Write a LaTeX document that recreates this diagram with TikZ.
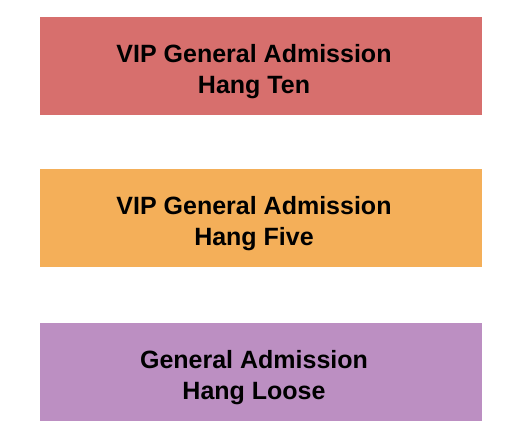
\documentclass[tikz,border=0pt]{standalone}
\usepackage{fontspec}
\setmainfont{Liberation Sans}
\usepackage[HTML]{xcolor}
\usetikzlibrary{positioning}
\definecolor{tenred}{HTML}{D76F6D}
\definecolor{fiveorange}{HTML}{F4AF59}
\definecolor{loosepurple}{HTML}{BC8FC2}

\begin{document}
\begin{tikzpicture}[x=1pt, y=-1pt,
  zone/.style={rectangle, inner sep=0pt, minimum width=442pt, minimum height=98pt},
  label/.style={align=center, font=\fontsize{25}{31}\selectfont\bfseries, text=black}]
\useasboundingbox (0,0) rectangle (525,439);
% sections
\node[zone, fill=tenred] (ten) at (261,66) {};
\node[zone, fill=fiveorange] (five) at (261,218) {};
\node[zone, fill=loosepurple] (loose) at (261,372) {};
% labels
\node[label] (tenlbl) at (254,71.5) {VIP General Admission\\Hang Ten};
\node[label] (fivelbl) at (254,223.5) {VIP General Admission\\Hang Five};
\node[label] (looselbl) at (254,377.5) {General Admission\\Hang Loose};
\end{tikzpicture}
\end{document}
